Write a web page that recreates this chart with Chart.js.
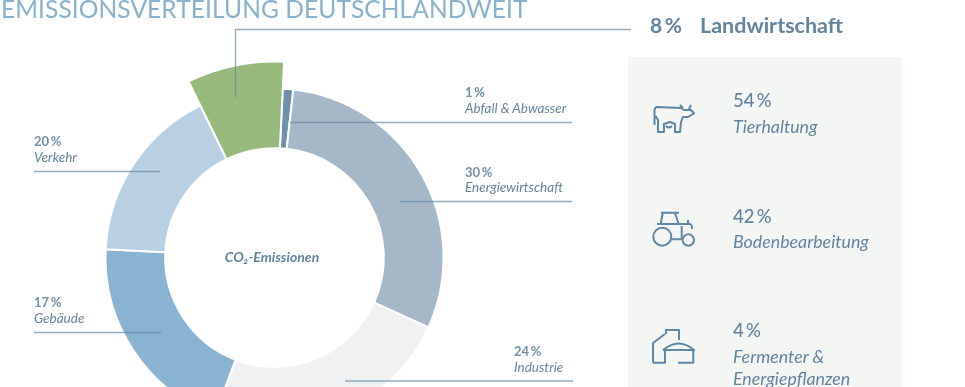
<!DOCTYPE html>
<html lang="de">
<head>
<meta charset="utf-8">
<title>Emissionsverteilung Deutschlandweit</title>
<script src="https://cdn.jsdelivr.net/npm/chart.js@4"></script>
<style>
html, body { margin: 0; padding: 0; background: #fff; overflow: hidden; }
#wrap { position: relative; width: 965px; height: 387px; overflow: hidden; font-family: Lato, sans-serif; }
#panel { position: absolute; left: 628px; top: 57px; width: 274px; height: 330px; background: #f4f6f4; }
#donut { position: absolute; left: 0; top: 0; }
#overlay { position: absolute; left: 0; top: 0; }
</style>
</head>
<body>
<div id="wrap">
  <div id="panel"></div>
  <canvas id="donut" width="549" height="515"></canvas>
  <svg id="overlay" width="965" height="387" xmlns="http://www.w3.org/2000/svg"></svg>
</div>
<script>
var categories = ["Abfall & Abwasser", "Energiewirtschaft", "Industrie", "Gebäude", "Verkehr", "Landwirtschaft"];
// the printed percentages, next to the arc sizes as drawn in the picture (Gebäude/Verkehr arcs are swapped there)
var printedPercent = [1, 30, 24, 17, 20, 8];
var arcValues = [1, 30, 24, 20, 17, 8];
var colors = ["#7090aa", "#a6b8c8", "#eff1f3", "#89b3d1", "#b9cfe2", "#97b97c"];

var farmCategories = ["Tierhaltung", "Bodenbearbeitung", "Fermenter &|Energiepflanzen"];
var farmPercent = [54, 42, 4];

var textColor = "#64849e";
var lineColor = "rgba(104,138,163,0.72)";

// grow the Landwirtschaft arc outwards, it stands out of the ring
var growSlice = {
    id: 'growSlice',
    afterDatasetsUpdate: function(chart) {
        chart.getDatasetMeta(0).data[5].outerRadius = 196;
    }
};

var ctx = document.getElementById("donut").getContext('2d');
var donut = new Chart(ctx, {
    type: 'doughnut',
    data: {
        labels: categories,
        datasets: [{
            data: arcValues,
            backgroundColor: colors,
            borderColor: '#fff',
            borderWidth: 2,
        }],
    },
    options: {
        responsive: false,
        animation: false,
        rotation: 2.8,
        radius: 169,
        cutout: '64.7%',
        plugins: {
            legend: { display: false },
            tooltip: { enabled: false },
        }
    },
    plugins: [growSlice]
});

// text, leader lines and icons on top
var svg = document.getElementById("overlay");
function add(tag, attrs, text) {
    var el = document.createElementNS("http://www.w3.org/2000/svg", tag);
    for (var k in attrs) el.setAttribute(k, attrs[k]);
    if (text) el.textContent = text;
    svg.appendChild(el);
    return el;
}
function label(x, y, size, text, extra) {
    var attrs = { x: x, y: y, 'font-size': size, fill: textColor, 'font-family': 'Lato, sans-serif' };
    for (var k in extra) attrs[k] = extra[k];
    return add('text', attrs, text);
}
function line(points) {
    add('polyline', { points: points, fill: 'none', stroke: lineColor, 'stroke-width': 1.3 });
}
function pct(v) { return v + "\u2009%"; }

label(1, 18, 24.5, "EMISSIONSVERTEILUNG DEUTSCHLANDWEIT", { fill: '#88b2ce', 'font-weight': 400, 'letter-spacing': '0.1px' });

// ring labels: [category index, x, percent baseline, name baseline, leader]
var ringLabels = [
    [0, 465, 97, 113, "290,122.5 572,122.5"],
    [1, 465, 177, 192, "400,201.5 572,201.5"],
    [2, 514, 356, 372, "345,381 573,381"],
    [3, 34, 307, 323, "34,332.5 161,332.5"],
    [4, 34, 146, 162, "34,171.5 160,171.5"],
];
ringLabels.forEach(function(r) {
    label(r[1], r[2], 13, pct(printedPercent[r[0]]), { 'font-weight': 700, 'fill-opacity': 0.9 });
    label(r[1], r[3], 13.5, categories[r[0]], { 'font-style': 'italic' });
    line(r[4]);
});

line("235.5,97 235.5,29.5 631,29.5");
label(650, 33, 21, pct(printedPercent[5]), { 'font-weight': 700 });
label(700, 33, 21.5, categories[5], { 'font-weight': 700 });

label(272, 262, 14, "CO₂-Emissionen", { 'font-weight': 700, 'font-style': 'italic', 'text-anchor': 'middle' });

// farm panel
var farmRows = [[107, 133], [223, 248], [337, 363]];
farmCategories.forEach(function(name, i) {
    label(733, farmRows[i][0], 18.5, pct(farmPercent[i]), { 'font-weight': 500 });
    name.split("|").forEach(function(part, j) {
        label(733, farmRows[i][1] + j * 22, 17.8, part, { 'font-style': 'italic' });
    });
});

// icons
var iconPaths = [
    "M657 107 L681 108 L684 110 L691 110 L694 113.5 L688 117 L683 117 L681 122 L680 132 L675 132 L675 124 L670 122 L664 124 L664 132 L658 132 L658 120 L655.5 116 M654.5 110 V125 M654.5 110 Q655 107 657 107 M680 105 L683 108 M691 105 L689 109 M666 126 Q669 129 672 126",
    "M661 212.7 H679 M662.7 213 L660.7 224 M675 213 L679 225 M657 224 H690 Q692 224 692 229 M688 220 V225 M672 239.3 H681.7 M681.7 226 V239",
    "M653 362.7 V343 L665 334 M665 330 H679 V340 M666 330 V334 M653 362.7 H665 V350 M663 350 Q679 337 694 350 M663 350 H695 M693.3 350 V362.7 H678"
];
iconPaths.forEach(function(d) {
    add('path', { d: d, fill: 'none', stroke: '#5f86a2', 'stroke-width': 2, 'stroke-linejoin': 'round' });
});
add('circle', { cx: 662.3, cy: 236.7, r: 9, fill: 'none', stroke: '#5f86a2', 'stroke-width': 2 });
add('circle', { cx: 688.3, cy: 240, r: 5.7, fill: 'none', stroke: '#5f86a2', 'stroke-width': 2 });
</script>
</body>
</html>
